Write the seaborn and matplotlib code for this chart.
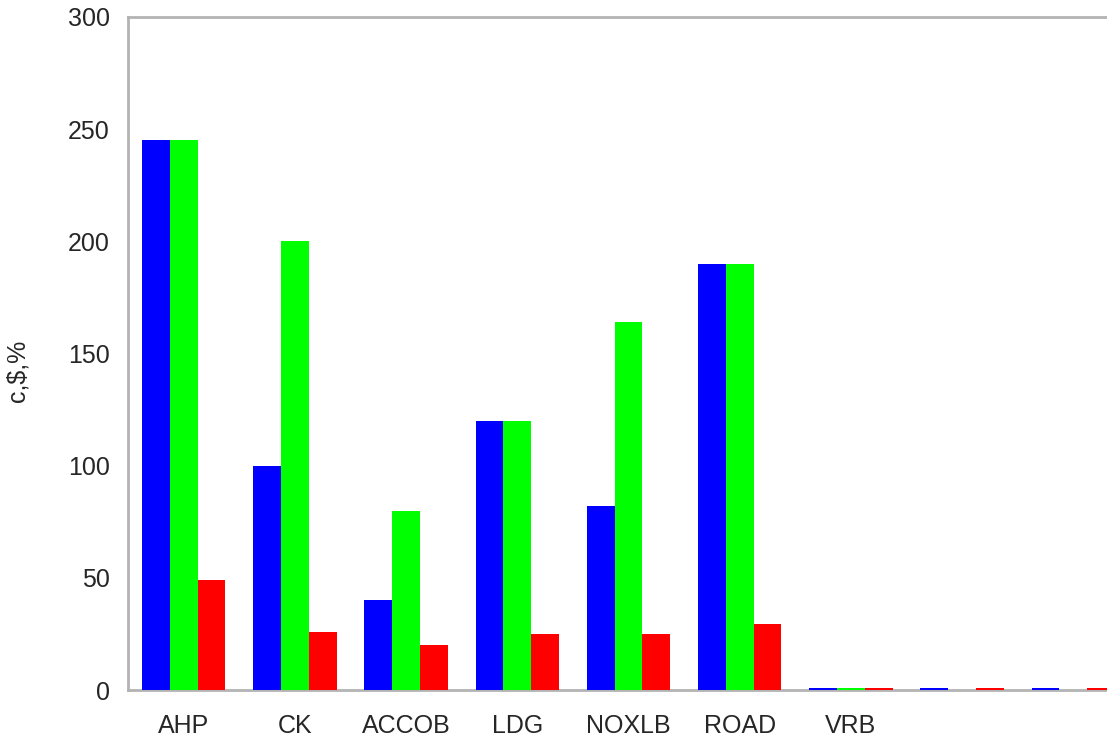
import matplotlib
matplotlib.use('Agg')
import matplotlib.pyplot as plt
import pandas as pd
import seaborn as sns

categories = ['AHP', 'CK', 'ACCOB', 'LDG', 'NOXLB', 'ROAD', 'VRB', 'G8', 'G9']
tick_labels = ['AHP', 'CK', 'ACCOB', 'LDG', 'NOXLB', 'ROAD', 'VRB', '', '']
series_names = ['s1', 's2', 's3']
blue_vals = [245, 100, 40, 120, 82, 190, 0.7, 0.7, 0.7]
green_vals = [245, 200, 80, 120, 164, 190, 0.7, 0, 0]
red_vals = [49, 26, 20, 25, 25, 29.5, 0.7, 0.7, 0.7]
colors = ['#0000ff', '#00ff00', '#ff0000']

rows = []
for name, vals in zip(series_names, [blue_vals, green_vals, red_vals]):
    for cat, v in zip(categories, vals):
        rows.append({'cat': cat, 'series': name, 'value': v})
df = pd.DataFrame(rows)

sns.set_style('white')
plt.rcParams['font.family'] = ['Liberation Sans', 'DejaVu Sans']

fig = plt.figure(figsize=(11.07, 7.42), dpi=100)
ax = fig.add_axes([128 / 1107, 52 / 742, 1001 / 1107, 673 / 742])

sns.barplot(data=df, x='cat', y='value', hue='series', order=categories,
            hue_order=series_names, palette=colors, saturation=1,
            width=0.75, errorbar=None, legend=False, ax=ax, zorder=3,
            linewidth=0, edgecolor='none')

ax.set_ylim(0, 300)
ax.set_xlim(-0.5, len(categories) - 0.5)
ax.set_yticks(range(0, 301, 50))
ax.set_xticks(range(len(categories)))
ax.set_xticklabels(tick_labels)
ax.tick_params(axis='both', length=0, labelsize=18)
ax.tick_params(axis='x', pad=17)
ax.tick_params(axis='y', pad=13)
ax.set_xlabel('')
ax.set_ylabel('c,$,%', fontsize=18)
ax.yaxis.set_label_coords(-0.098, 0.474)

for side in ['left', 'top', 'bottom', 'right']:
    ax.spines[side].set_color('#b3b3b3')
    ax.spines[side].set_linewidth(2)

fig.savefig('out.png', dpi=100)
